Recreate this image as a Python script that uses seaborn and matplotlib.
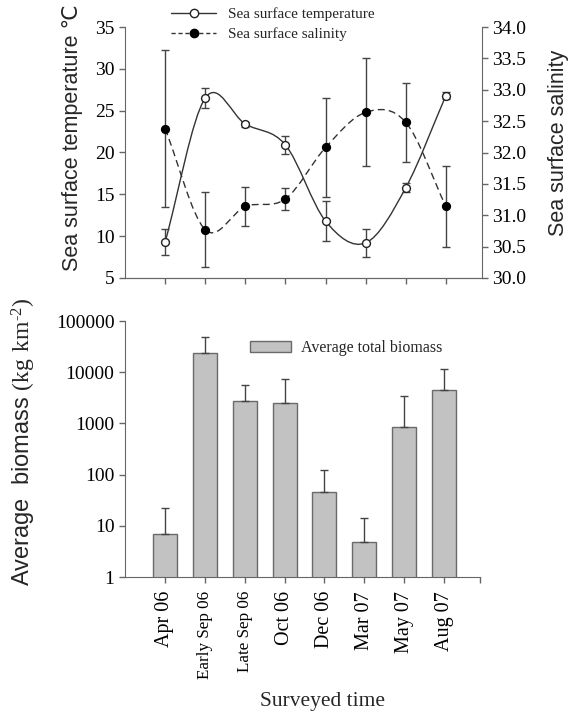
import numpy as np
import pandas as pd
import seaborn as sns
import matplotlib.pyplot as plt
from matplotlib.path import Path
from matplotlib.patches import PathPatch, Patch
from matplotlib.lines import Line2D
from matplotlib.ticker import NullLocator

# values
months = ['Apr 06', 'Early Sep 06', 'Late Sep 06', 'Oct 06', 'Dec 06', 'Mar 07', 'May 07', 'Aug 07']
temp = [9.3, 26.5, 23.4, 20.9, 11.8, 9.2, 15.8, 26.8]
temp_err = [1.6, 1.2, 0.3, 1.1, 2.4, 1.7, 0.5, 0.4]
sal = [32.38, 30.77, 31.14, 31.26, 32.08, 32.64, 32.48, 31.14]
sal_err = [1.25, 0.6, 0.31, 0.17, 0.79, 0.86, 0.63, 0.64]
biomass = [6.9, 23700, 2750, 2500, 46, 4.8, 850, 4500]
biomass_top = [22, 49000, 5600, 7400, 123, 14, 3400, 11500]  # top of error bar

sns.set_style('ticks')
SERIF = ['Liberation Serif', 'DejaVu Serif']
SANS = ['Liberation Sans', 'DejaVu Sans']
plt.rcParams['font.family'] = SERIF
plt.rcParams['mathtext.fontset'] = 'custom'
plt.rcParams['mathtext.rm'] = 'Liberation Serif'
plt.rcParams['axes.edgecolor'] = '#666666'
plt.rcParams['xtick.color'] = '#666666'
plt.rcParams['ytick.color'] = '#666666'
plt.rcParams['xtick.labelcolor'] = 'black'
plt.rcParams['ytick.labelcolor'] = 'black'

W, H = 569, 711
fig = plt.figure(figsize=(W / 100, H / 100), dpi=100)


def frac(left, top, right, bottom):
    return [left / W, 1 - bottom / H, (right - left) / W, (bottom - top) / H]


def smooth(ax, x, y, **kw):
    # Catmull-Rom curve through the points, drawn as bezier segments
    pts = np.column_stack([np.asarray(x, float), np.asarray(y, float)])
    m = np.gradient(pts, axis=0)
    verts = [pts[0]]
    codes = [Path.MOVETO]
    for i in range(len(pts) - 1):
        verts += [pts[i] + m[i] / 3, pts[i + 1] - m[i + 1] / 3, pts[i + 1]]
        codes += [Path.CURVE4] * 3
    ax.add_patch(PathPatch(Path(verts, codes), fill=False, **kw))


pos = np.arange(len(months))
xlim = (-1, 7.9)

# ---- top panel: temperature and salinity
ax1 = fig.add_axes(frac(125, 27, 482, 278))
ax2 = ax1.twinx()

smooth(ax1, pos, temp, color='#333333', lw=1, zorder=2)
ax1.errorbar(pos, temp, yerr=temp_err, fmt='none', ecolor='#444444',
             elinewidth=1, capsize=3, capthick=1, zorder=3)
sns.scatterplot(x=pos, y=temp, ax=ax1, marker='o', s=32, color='white',
                edgecolor='#222222', linewidth=1, zorder=5)

smooth(ax2, pos, sal, color='#333333', lw=1, linestyle=(0, (5, 3)), zorder=2)
ax2.errorbar(pos, sal, yerr=sal_err, fmt='none', ecolor='#444444',
             elinewidth=1, capsize=3, capthick=1, zorder=3)
sns.scatterplot(x=pos, y=sal, ax=ax2, marker='o', s=32, color='black',
                edgecolor='black', linewidth=1, zorder=5)

ax1.set_xlim(*xlim)
ax1.set_ylim(5, 35)
ax2.set_ylim(30, 34)
ax1.set_xticks(pos)
ax1.set_xticklabels([])
ax1.set_yticks(range(5, 36, 5))
ax2.set_yticks(np.arange(30, 34.01, 0.5))
ax2.set_yticklabels([f'{v:.1f}' for v in np.arange(30, 34.01, 0.5)])
for a in (ax1, ax2):
    a.spines['top'].set_visible(False)
    a.tick_params(direction='out', length=4, width=1, labelsize=14)
ax2.spines['left'].set_visible(False)
ax1.spines['right'].set_visible(False)

ax1.set_ylabel('Sea surface temperature \u2103', family=SANS, fontsize=15.5)
ax1.yaxis.set_label_coords(-0.118, 0.56)
ax2.set_ylabel('Sea surface salinity', family=SANS, fontsize=15.5)
ax2.yaxis.set_label_coords(1.185, 0.54)

handles = [
    Line2D([], [], color='#333333', lw=1, marker='o', markersize=6,
           markerfacecolor='white', markeredgecolor='#222222'),
    Line2D([], [], color='#333333', lw=1, ls=(0, (3, 2)), marker='o', markersize=6,
           markerfacecolor='black', markeredgecolor='black'),
]
ax1.legend(handles, ['Sea surface temperature', 'Sea surface salinity'],
           loc='center left', bbox_to_anchor=(0.13, 1.01), frameon=False,
           fontsize=11, handlelength=2.9, handletextpad=0.8, labelspacing=0.4,
           borderpad=0, borderaxespad=0)

# ---- bottom panel: biomass
ax3 = fig.add_axes(frac(125, 321, 480, 577))
ax3.set_yscale('log')
df = pd.DataFrame({'month': months, 'biomass': biomass})
sns.barplot(data=df, x='month', y='biomass', ax=ax3, color='#c2c2c2',
            saturation=1, edgecolor='#6a6a6a', linewidth=1, width=0.6)
up = np.array(biomass_top) - np.array(biomass)
ax3.errorbar(pos, biomass, yerr=[np.zeros(len(pos)), up], fmt='none',
             ecolor='#444444', elinewidth=1, capsize=3, capthick=1, zorder=3)
ax3.set_xlim(*xlim)
ax3.set_ylim(1, 100000)
ax3.set_yticks([1, 10, 100, 1000, 10000, 100000])
ax3.set_yticklabels(['1', '10', '100', '1000', '10000', '100000'])
ax3.yaxis.set_minor_locator(NullLocator())
ax3.set_xticks(pos)
ax3.set_xticklabels(months, rotation=90, va='top', ha='center')
ax3.set_xticks([xlim[1]], minor=True)
for lab in ax3.get_xticklabels():
    lab.set_fontsize(12.3 if 'Sep' in lab.get_text() else 14.5)
ax3.tick_params(axis='y', direction='out', length=4, width=1, labelsize=14)
ax3.tick_params(axis='x', which='both', direction='out', length=4, width=1, pad=6)
for s in ('top', 'right'):
    ax3.spines[s].set_visible(False)

ax3.set_ylabel(r'Average  biomass $\mathrm{(kg\ km^{\text{-}2})}$', family=SANS, fontsize=17)
ax3.yaxis.set_label_coords(-0.245, 0.53)
ax3.set_xlabel('Surveyed time', fontsize=15.5)
ax3.xaxis.set_label_coords(0.555, -0.45)

ax3.legend([Patch(facecolor='#c2c2c2', edgecolor='#6a6a6a')], ['Average total biomass'],
           loc='center left', bbox_to_anchor=(0.352, 0.895), frameon=False,
           fontsize=11.5, handlelength=2.6, handleheight=0.65, handletextpad=0.6,
           borderpad=0, borderaxespad=0)

fig.savefig('out.png', dpi=100)
